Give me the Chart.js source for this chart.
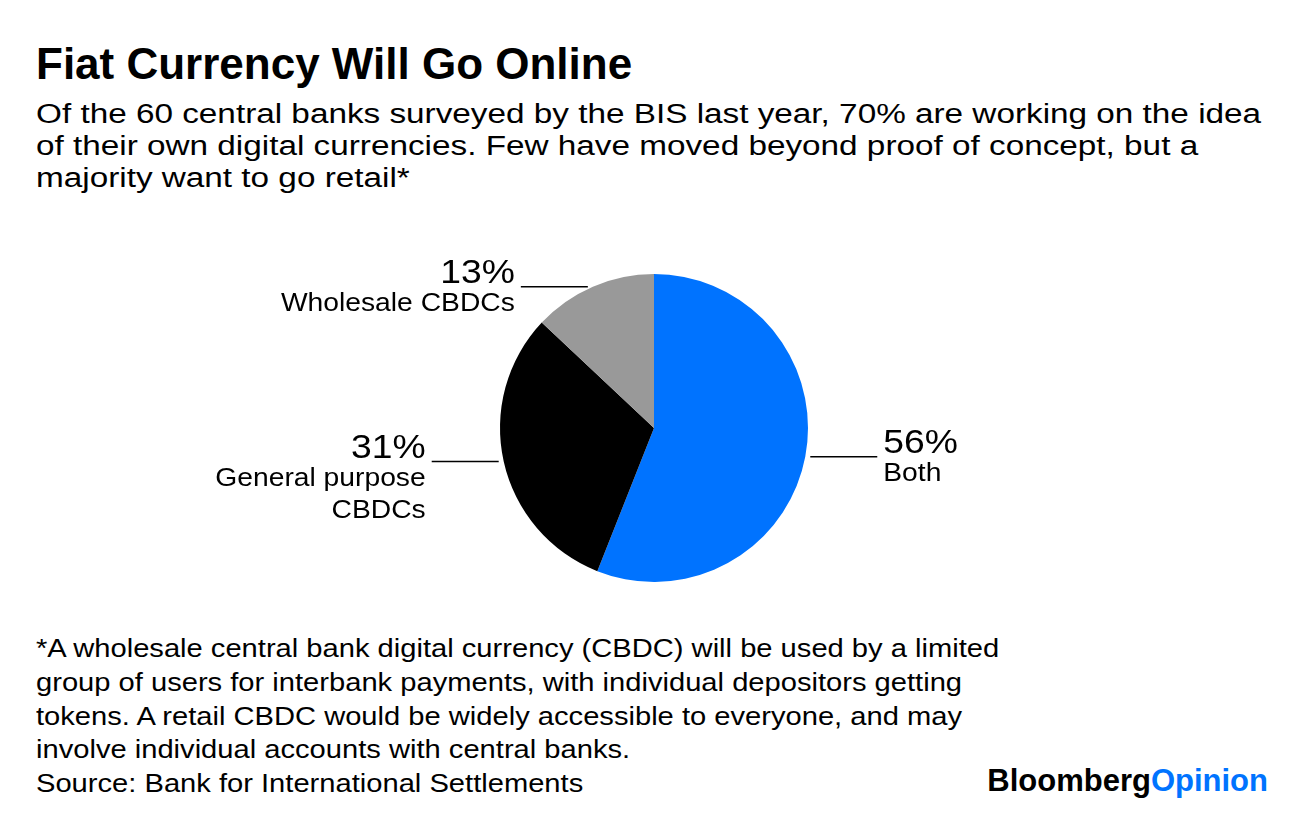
<!DOCTYPE html>
<html>
<head>
<meta charset="utf-8">
<script src="https://cdn.jsdelivr.net/npm/chart.js@4"></script>
<style>
  body { margin: 0; background: #fff; width: 1296px; height: 814px; overflow: hidden; position: relative; font-family: "Liberation Sans", Arial, sans-serif; color: #000; }
  .abs { position: absolute; white-space: nowrap; }
  #title { left: 36px; top: 42px; font-weight: bold; font-size: 44px; line-height: 44px; }
  #subtitle { left: 36px; top: 98px; font-size: 27px; line-height: 32px; transform: scaleX(1.233); transform-origin: 0 0; }
  #notes { left: 36px; top: 632px; font-size: 25px; line-height: 33.75px; transform: scaleX(1.165); transform-origin: 0 0; }
  #logo { right: 28px; top: 764px; font-weight: bold; font-size: 31px; line-height: 34px; letter-spacing: 0; }
  #logo span { color: #0073ff; }
  #wrap { left: 0; top: 230px; width: 1296px; height: 396px; }
</style>
</head>
<body>
<div id="title" class="abs">Fiat Currency Will Go Online</div>
<div id="subtitle" class="abs">Of the 60 central banks surveyed by the BIS last year, 70% are working on the idea<br>of their own digital currencies. Few have moved beyond proof of concept, but a<br>majority want to go retail*</div>
<div id="wrap" class="abs"><canvas id="pieChart"></canvas></div>
<div id="notes" class="abs">*A wholesale central bank digital currency (CBDC) will be used by a limited<br>group of users for interbank payments, with individual depositors getting<br>tokens. A retail CBDC would be widely accessible to everyone, and may<br>involve individual accounts with central banks.<br>Source: Bank for International Settlements</div>
<div id="logo" class="abs">Bloomberg<span>Opinion</span></div>
<script>
// Data
var categories = ['Both', 'General purpose CBDCs', 'Wholesale CBDCs']
var labelLines = [['Both'], ['General purpose', 'CBDCs'], ['Wholesale CBDCs']]
var shares = [56, 31, 13]
var sliceColors = ['#0073ff', '#000000', '#999999']

// leader lines + labels next to each slice
var sliceLabels = {
    id: 'sliceLabels',
    afterDatasetsDraw: function(chart) {
        var ctx = chart.ctx
        var arcs = chart.getDatasetMeta(0).data
        ctx.save()
        arcs.forEach(function(arc, i) {
            var mid = (arc.startAngle + arc.endAngle) / 2
            var x = arc.x + arc.outerRadius * Math.cos(mid)
            var y = arc.y + arc.outerRadius * Math.sin(mid)
            var right = Math.cos(mid) >= 0
            var dir = right ? 1 : -1
            var x0 = x + dir * 5
            var x1 = x0 + dir * 67
            ctx.beginPath()
            ctx.strokeStyle = '#000'
            ctx.lineWidth = 1.5
            ctx.moveTo(x0, y)
            ctx.lineTo(x1, y)
            ctx.stroke()
            var tx = x1 + dir * 6
            ctx.fillStyle = '#000'
            ctx.textAlign = right ? 'left' : 'right'
            ctx.textBaseline = 'alphabetic'
            // the original font is wider than Liberation Sans, stretch a bit
            ctx.save()
            ctx.translate(tx, y)
            ctx.scale(1.13, 1)
            ctx.font = '33px "Liberation Sans", Arial, sans-serif'
            ctx.fillText(shares[i] + '%', 0, -4)
            ctx.font = '25px "Liberation Sans", Arial, sans-serif'
            labelLines[i].forEach(function(line, j) {
                ctx.fillText(line, 0, 24 + j * 32)
            })
            ctx.restore()
        })
        ctx.restore()
    }
}

var ctx = document.getElementById('pieChart').getContext('2d');
var myChart = new Chart(ctx, {
    type: 'pie',
    data: {
        labels: categories,
        datasets: [{
            data: shares,
            backgroundColor: sliceColors,
            borderWidth: 0
        }]
    },
    options: {
        responsive: true,
        maintainAspectRatio: false,
        animation: false,
        layout: { padding: { left: 12, top: 44, bottom: 44 } },
        plugins: {
            legend: { display: false },
            tooltip: { enabled: false }
        }
    },
    plugins: [sliceLabels]
});
</script>
</body>
</html>
